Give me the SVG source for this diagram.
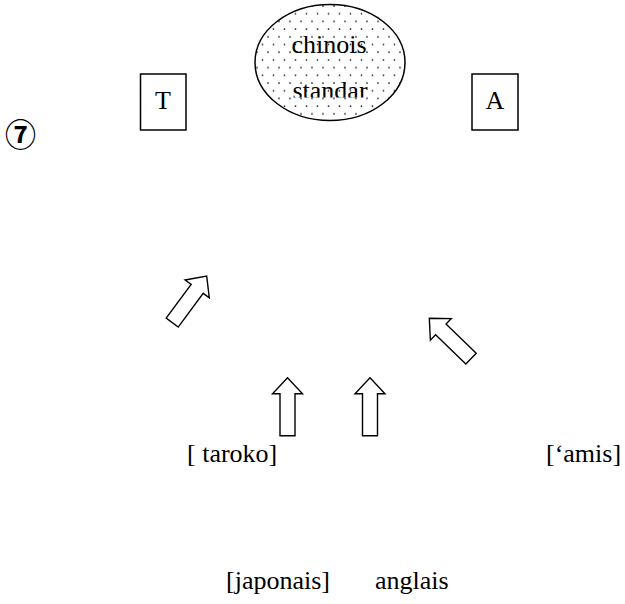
<svg xmlns="http://www.w3.org/2000/svg" width="625" height="604" viewBox="0 0 625 604">
<style>
.t{font-family:"Liberation Serif","Times New Roman",serif;font-size:26px;fill:#000}
.box{fill:#fff;stroke:#000;stroke-width:1.5}
.arr{fill:#fff;stroke:#000;stroke-width:1.4;stroke-linejoin:miter}
</style>
<defs>
<pattern id="dots" patternUnits="userSpaceOnUse" width="11" height="15.4" x="255" y="4">
<circle cx="2" cy="2" r="0.9" fill="#222"/>
<circle cx="7.5" cy="9.7" r="0.9" fill="#222"/>
</pattern>
<clipPath id="cut"><rect x="250" y="60" width="160" height="37.5"/></clipPath>
<path id="arrow" d="M0,0 L15,16 L7.5,16 L7.5,58 L-7.5,58 L-7.5,16 L-15,16 Z"/>
</defs>
<rect width="625" height="604" fill="#fff"/>

<g id="node-chinois">
<ellipse cx="330" cy="62.5" rx="75" ry="58" fill="#fff"/>
<ellipse cx="330" cy="62.5" rx="75" ry="58" fill="url(#dots)" stroke="#000" stroke-width="1.5"/>
<text class="t" x="329" y="53" text-anchor="middle">chinois</text>
<text class="t" x="330" y="99" text-anchor="middle" clip-path="url(#cut)">standar</text>
</g>
<g id="node-T">
<rect class="box" x="140.5" y="74" width="45.5" height="56"/>
<text class="t" x="163" y="109" text-anchor="middle">T</text>
</g>
<g id="node-A">
<rect class="box" x="472" y="74" width="46" height="56"/>
<text class="t" x="495" y="109" text-anchor="middle">A</text>
</g>
<g id="label-7">
<text x="20.5" y="146" text-anchor="middle" style="font-family:'Noto Sans CJK JP','DejaVu Sans',sans-serif;font-size:31px;font-weight:bold">⑦</text>
</g>

<g id="connectors">
<use href="#arrow" class="arr" transform="translate(206.7,276) rotate(36.5)"/>
<use href="#arrow" class="arr" transform="translate(429.3,318.3) rotate(-46)"/>
<use href="#arrow" class="arr" transform="translate(287.5,377.7)"/>
<use href="#arrow" class="arr" transform="translate(370,377.7)"/>
</g>

<g id="node-taroko"><text class="t" x="187" y="462">[ taroko]</text></g>
<g id="node-amis"><text class="t" x="546" y="462">[‘amis]</text></g>
<g id="node-japonais"><text class="t" x="226" y="589">[japonais]</text></g>
<g id="node-anglais"><text class="t" x="375" y="589">anglais</text></g>
</svg>
